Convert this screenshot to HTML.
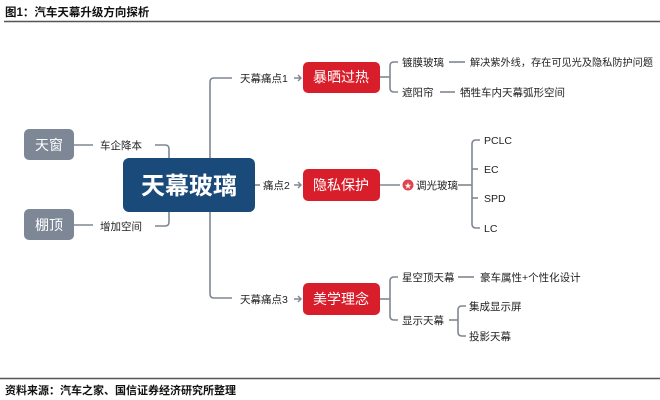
<!DOCTYPE html>
<html><head><meta charset="utf-8"><style>
html,body{margin:0;padding:0;background:#fff;}
svg{display:block;font-family:"Liberation Sans","Noto Sans CJK SC",sans-serif;}
</style></head><body>
<svg width="660" height="400" viewBox="0 0 660 400" xmlns="http://www.w3.org/2000/svg">
<text x="5" y="16" font-size="11.5" font-weight="bold" fill="#111">图1：汽车天幕升级方向探析</text>
<line x1="4" y1="21.5" x2="660" y2="21.5" stroke="#555" stroke-width="1.5"/>
<line x1="0" y1="378.5" x2="660" y2="378.5" stroke="#555" stroke-width="1.5"/>
<text x="5" y="394" font-size="11" font-weight="bold" fill="#111">资料来源：汽车之家、国信证券经济研究所整理</text>

<g fill="none" stroke="#7e8793" stroke-width="1.6">
<line x1="74" y1="145" x2="93" y2="145"/>
<line x1="74" y1="225" x2="93" y2="225"/>
<path d="M155 145 H165 Q169 145 169 149 V158"/>
<path d="M155 226 H165 Q169 226 169 222 V212"/>
<path d="M232 78 H214 Q210 78 210 82 V294 Q210 298 214 298 H232"/>
<line x1="255" y1="185" x2="260" y2="185"/>
<path d="M380 77 H390"/>
<path d="M398 62 H394 Q390 62 390 66 V88 Q390 92 394 92 H398"/>
<line x1="449" y1="62" x2="465" y2="62"/>
<line x1="440" y1="92" x2="455" y2="92"/>
<line x1="380" y1="185" x2="400" y2="185"/>
<line x1="458" y1="185" x2="472" y2="185"/>
<path d="M480 140 H476 Q472 140 472 144 V224 Q472 228 476 228 H480"/>
<line x1="472" y1="169" x2="478" y2="169"/>
<line x1="472" y1="198" x2="478" y2="198"/>
<path d="M380 299 H390"/>
<path d="M398 277 H394 Q390 277 390 281 V316 Q390 320 394 320 H398"/>
<line x1="458" y1="277" x2="474" y2="277"/>
<line x1="449" y1="320" x2="458" y2="320"/>
<path d="M466 306 H462 Q458 306 458 310 V332 Q458 336 462 336 H466"/>
</g>
<g fill="none" stroke="#7e8793" stroke-width="1.4">
<path d="M294 78 H301 M298 75 L301 78 L298 81"/>
<path d="M294 185 H301 M298 182 L301 185 L298 188"/>
<path d="M294 299 H301 M298 296 L301 299 L298 302"/>
</g>

<rect x="24" y="129" width="50" height="31" rx="5" fill="#7d8796"/>
<text x="49" y="150" font-size="14" fill="#fff" text-anchor="middle">天窗</text>
<rect x="24" y="209" width="50" height="31" rx="5" fill="#7d8796"/>
<text x="49" y="230" font-size="14" fill="#fff" text-anchor="middle">棚顶</text>

<rect x="123" y="158" width="132" height="54" rx="6" fill="#1a4a7a"/>
<text x="189" y="194" font-size="24" font-weight="bold" fill="#fff" text-anchor="middle">天幕玻璃</text>

<g font-size="10.5" fill="#222">
<text x="100" y="149">车企降本</text>
<text x="100" y="230">增加空间</text>
<text x="240" y="82">天幕痛点1</text>
<text x="263" y="189">痛点2</text>
<text x="240" y="303">天幕痛点3</text>
<text x="402" y="66">镀膜玻璃</text>
<text x="470" y="66" font-size="10" textLength="183" lengthAdjust="spacingAndGlyphs">解决紫外线，存在可见光及隐私防护问题</text>
<text x="402" y="96">遮阳帘</text>
<text x="460" y="96">牺牲车内天幕弧形空间</text>
<text x="416" y="189">调光玻璃</text>
<text x="484" y="144">PCLC</text>
<text x="484" y="173">EC</text>
<text x="484" y="202">SPD</text>
<text x="484" y="232">LC</text>
<text x="402" y="281">星空顶天幕</text>
<text x="480" y="281">豪车属性+个性化设计</text>
<text x="402" y="324">显示天幕</text>
<text x="469" y="310">集成显示屏</text>
<text x="469" y="340">投影天幕</text>
</g>
<circle cx="408" cy="185" r="5.5" fill="#e0444e"/>
<text x="408" y="188" font-size="7" fill="#fff" text-anchor="middle">★</text>

<g fill="#d81e2a">
<rect x="303" y="62" width="77" height="31" rx="5"/>
<rect x="303" y="169" width="77" height="32" rx="5"/>
<rect x="303" y="283" width="77" height="32" rx="5"/>
</g>
<g font-size="14" fill="#fff" text-anchor="middle">
<text x="341" y="82">暴晒过热</text>
<text x="341" y="190">隐私保护</text>
<text x="341" y="304">美学理念</text>
</g>
</svg>
</body></html>
